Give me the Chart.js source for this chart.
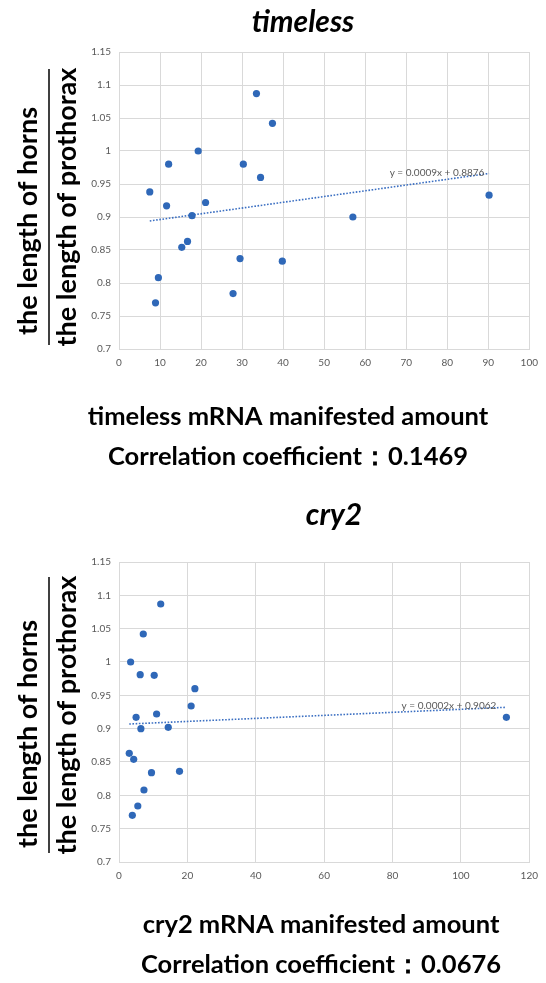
<!DOCTYPE html>
<html>
<head>
<meta charset="utf-8">
<script src="https://cdn.jsdelivr.net/npm/chart.js@4.4.0/dist/chart.umd.min.js"></script>
<style>
  body { margin: 0; background: #fff; }
  canvas { display: block; }
</style>
</head>
<body>
<canvas id="c1" width="546" height="490"></canvas>
<canvas id="c2" width="546" height="493"></canvas>
<script>
// timeless: mRNA amount vs horn / prothorax ratio
const timelessX = [7.5, 12.1, 11.6, 9.6, 8.9, 15.3, 16.7, 17.8, 19.3, 21.1, 27.8, 29.5, 30.3, 33.5, 34.5, 37.4, 39.8, 57.0, 90.2];
const timelessY = [0.938, 0.980, 0.917, 0.808, 0.770, 0.854, 0.863, 0.902, 1.000, 0.922, 0.784, 0.837, 0.980, 1.087, 0.960, 1.042, 0.833, 0.900, 0.933];
const timelessTrendX = [7.5, 90.2];
const timelessTrendY = [0.894, 0.966];

// cry2
const cry2X = [3.0, 4.3, 3.9, 5.5, 7.3, 9.5, 3.4, 5.0, 6.4, 6.2, 7.1, 10.3, 11.0, 12.2, 14.4, 17.7, 21.1, 22.2, 113.3];
const cry2Y = [0.863, 0.854, 0.770, 0.784, 0.808, 0.834, 1.000, 0.917, 0.900, 0.981, 1.042, 0.980, 0.922, 1.087, 0.902, 0.836, 0.934, 0.960, 0.917];
const cry2TrendX = [3.0, 113.0];
const cry2TrendY = [0.907, 0.932];

const blue = '#2f68b8';
const grey = '#595959';

function pts(xs, ys) {
    return xs.map((v, i) => ({ x: v, y: ys[i] }));
}

// titles, axis captions and the trendline equation
const textPlugin = {
    id: 'texts',
    afterDraw(chart, args, o) {
        const ctx = chart.ctx;
        ctx.save();
        ctx.fillStyle = '#000';
        ctx.textAlign = 'center';
        ctx.textBaseline = 'middle';

        ctx.font = 'italic bold 30px Lato';
        ctx.fillText(o.title, o.titleX, o.titleY);

        ctx.font = 'bold 25.5px Lato';
        ctx.fillText(o.xTitle[0], o.xTitleX, o.xTitleY[0]);
        ctx.fillText(o.xTitle[1], o.xTitleX, o.xTitleY[1]);

        // y caption drawn as a fraction
        ctx.save();
        ctx.translate(28, o.yMid);
        ctx.rotate(-Math.PI / 2);
        ctx.font = 'bold 27px Lato';
        ctx.fillText('the length of horns', o.numOff, 0);
        ctx.fillText('the length of prothorax', 0, 39);
        ctx.restore();
        ctx.strokeStyle = '#000';
        ctx.lineWidth = 1.5;
        ctx.beginPath();
        ctx.moveTo(49, o.yMid - 138);
        ctx.lineTo(49, o.yMid + 138);
        ctx.stroke();

        // trendline equation
        ctx.fillStyle = grey;
        ctx.font = '10px Lato';
        ctx.fillText(o.eq, chart.scales.x.getPixelForValue(o.eqAt[0]), chart.scales.y.getPixelForValue(o.eqAt[1]));
        ctx.restore();
    }
};

function makeChart(id, xs, ys, tx, ty, xMax, xStep, pad, texts) {
    return new Chart(document.getElementById(id), {
        type: 'scatter',
        data: {
            datasets: [{
                data: pts(xs, ys),
                backgroundColor: blue,
                borderWidth: 0,
                pointRadius: 3.6
            }, {
                data: pts(tx, ty),
                showLine: true,
                borderColor: '#3b6fc2',
                borderWidth: 1.6,
                borderDash: [1.6, 1.6],
                pointRadius: 0
            }]
        },
        options: {
            responsive: false,
            animation: false,
            layout: { padding: pad },
            scales: {
                x: {
                    type: 'linear',
                    min: 0,
                    max: xMax,
                    afterFit: s => { s.height = 25; },
                    ticks: { stepSize: xStep, padding: 8, color: grey, font: { family: 'Lato', size: 10 } },
                    grid: { color: '#d9d9d9', drawTicks: false },
                    border: { color: '#d9d9d9' }
                },
                y: {
                    min: 0.7,
                    max: 1.15,
                    afterFit: s => { s.width = 30; },
                    ticks: {
                        stepSize: 0.05, padding: 8, color: grey, font: { family: 'Lato', size: 10 },
                        callback: v => String(+v.toFixed(2))
                    },
                    grid: { color: '#d9d9d9', drawTicks: false },
                    border: { color: '#d9d9d9' }
                }
            },
            plugins: {
                legend: { display: false },
                tooltip: { enabled: false },
                texts: texts
            }
        },
        plugins: [textPlugin]
    });
}

makeChart('c1', timelessX, timelessY, timelessTrendX, timelessTrendY, 100, 10,
    { left: 89, right: 9, top: 52, bottom: 116 },
    {
        title: 'timeless', titleX: 303, titleY: 22,
        xTitle: ['timeless mRNA manifested amount', 'Correlation coefficient：0.1469'],
        xTitleX: 288, xTitleY: [417, 457],
        yMid: 207, numOff: -14,
        eq: 'y = 0.0009x + 0.8876', eqAt: [77.5, 0.967]
    });

makeChart('c2', cry2X, cry2Y, cry2TrendX, cry2TrendY, 120, 20,
    { left: 89, right: 8, top: 72, bottom: 96 },
    {
        title: 'cry2', titleX: 334, titleY: 25,
        xTitle: ['cry2 mRNA manifested amount', 'Correlation coefficient：0.0676'],
        xTitleX: 321, xTitleY: [435, 475],
        yMid: 225, numOff: -19,
        eq: 'y = 0.0002x + 0.9062', eqAt: [96.5, 0.934]
    });
</script>
</body>
</html>
